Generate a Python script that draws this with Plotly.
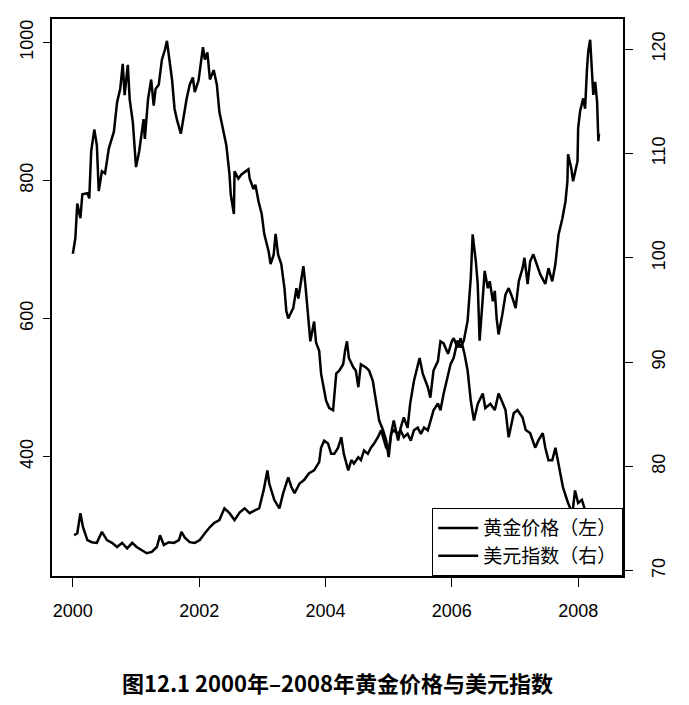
import plotly.graph_objects as go

# ---- data ----
# dollar index (right axis)
years_dollar = [
    2000.00, 2000.04, 2000.07, 2000.12, 2000.15, 2000.23, 2000.26, 2000.29, 2000.34, 2000.38,
    2000.41, 2000.46, 2000.51, 2000.57, 2000.65, 2000.70, 2000.75, 2000.79, 2000.82, 2000.87,
    2000.90, 2000.95, 2001.00, 2001.05, 2001.12, 2001.14, 2001.19, 2001.24, 2001.28, 2001.31,
    2001.36, 2001.41, 2001.46, 2001.49, 2001.52, 2001.57, 2001.61, 2001.65, 2001.71, 2001.76,
    2001.80, 2001.85, 2001.90, 2001.93, 2001.99, 2002.06, 2002.09, 2002.13, 2002.17, 2002.23,
    2002.28, 2002.32, 2002.39, 2002.43, 2002.48, 2002.50, 2002.55, 2002.56, 2002.62, 2002.67,
    2002.78, 2002.80, 2002.86, 2002.89, 2002.94, 2002.99, 2003.03, 2003.10, 2003.13, 2003.18,
    2003.21, 2003.25, 2003.30, 2003.35, 2003.38, 2003.41, 2003.49, 2003.54, 2003.57, 2003.65,
    2003.68, 2003.73, 2003.76, 2003.82, 2003.85, 2003.90, 2003.93, 2004.01, 2004.06, 2004.12,
    2004.17, 2004.22, 2004.28, 2004.31, 2004.34, 2004.37, 2004.44, 2004.48, 2004.52, 2004.56,
    2004.64, 2004.69, 2004.75, 2004.78, 2004.82, 2004.85, 2004.91, 2004.96, 2005.00, 2005.04,
    2005.08, 2005.15, 2005.19, 2005.24, 2005.30, 2005.34, 2005.40, 2005.46, 2005.49, 2005.54,
    2005.59, 2005.62, 2005.66, 2005.71, 2005.78, 2005.82, 2005.87, 2005.94, 2006.00, 2006.03,
    2006.09, 2006.14, 2006.20, 2006.25, 2006.30, 2006.35, 2006.41, 2006.49, 2006.53, 2006.61,
    2006.68, 2006.74, 2006.79, 2006.85, 2006.90, 2006.98, 2007.04, 2007.12, 2007.17, 2007.24,
    2007.32, 2007.37, 2007.44, 2007.48, 2007.53, 2007.59, 2007.64, 2007.72, 2007.76, 2007.84,
    2007.91, 2007.95, 2008.00, 2008.06, 2008.11, 2008.14, 2008.20, 2008.25, 2008.30, 2008.33,
]
dollar_idx = [
    100.4, 101.9, 105.2, 103.8, 106.1, 106.2, 105.7, 110.2, 112.3, 110.8,
    106.4, 108.3, 108.1, 110.5, 112.1, 114.9, 116.2, 118.6, 115.6, 118.5,
    115.2, 113.0, 108.7, 110.2, 113.3, 111.4, 115.2, 117.1, 114.6, 116.2,
    116.6, 119.0, 120.0, 120.8, 119.4, 117.1, 114.3, 113.2, 111.9, 114.0,
    115.2, 116.6, 117.3, 115.9, 117.0, 120.2, 119.0, 119.7, 117.1, 118.0,
    116.6, 114.0, 111.8, 110.8, 108.0, 106.1, 104.2, 108.3, 107.6, 108.0,
    108.5, 107.6, 106.6, 107.0, 105.4, 104.2, 102.3, 100.6, 99.4, 100.3,
    102.3, 100.3, 99.4, 97.1, 94.9, 94.2, 95.2, 97.1, 96.1, 99.2,
    97.5, 94.2, 92.0, 93.9, 91.9, 91.1, 88.9, 86.3, 85.6, 85.4,
    88.9, 89.2, 89.8, 91.1, 92.0, 90.4, 89.5, 89.2, 87.6, 89.8,
    89.5, 89.2, 88.2, 87.0, 85.4, 84.4, 83.5, 82.5, 80.9, 83.2,
    84.4, 82.5, 83.7, 84.7, 83.7, 86.0, 88.2, 89.8, 90.4, 88.9,
    88.2, 87.6, 86.6, 89.2, 90.1, 92.0, 91.8, 90.8, 92.0, 92.3,
    91.4, 92.3, 90.8, 89.2, 86.3, 84.4, 86.0, 87.0, 85.6, 86.0,
    85.4, 87.0, 86.3, 85.4, 82.8, 85.1, 85.4, 84.7, 83.5, 83.2,
    81.8, 82.5, 83.2, 81.8, 80.6, 80.6, 81.8, 79.0, 78.0, 76.5,
    75.5, 77.7, 76.5, 76.8, 75.8, 74.9, 73.0, 71.6, 72.5, 72.0,
]

# gold price (left axis)
years_gold = [
    2000.02, 2000.07, 2000.12, 2000.16, 2000.23, 2000.30, 2000.38, 2000.46, 2000.54, 2000.62,
    2000.70, 2000.78, 2000.86, 2000.94, 2001.01, 2001.09, 2001.17, 2001.25, 2001.33, 2001.38,
    2001.44, 2001.52, 2001.60, 2001.68, 2001.72, 2001.77, 2001.85, 2001.93, 2002.01, 2002.09,
    2002.17, 2002.24, 2002.32, 2002.40, 2002.48, 2002.56, 2002.64, 2002.72, 2002.80, 2002.88,
    2002.95, 2003.02, 2003.08, 2003.11, 2003.19, 2003.27, 2003.33, 2003.41, 2003.46, 2003.51,
    2003.59, 2003.66, 2003.74, 2003.82, 2003.90, 2003.93, 2003.98, 2004.04, 2004.09, 2004.14,
    2004.20, 2004.25, 2004.29, 2004.36, 2004.41, 2004.45, 2004.52, 2004.56, 2004.61, 2004.67,
    2004.72, 2004.77, 2004.83, 2004.88, 2004.91, 2004.96, 2005.00, 2005.04, 2005.08, 2005.15,
    2005.19, 2005.24, 2005.30, 2005.35, 2005.40, 2005.46, 2005.51, 2005.56, 2005.62, 2005.66,
    2005.71, 2005.78, 2005.82, 2005.87, 2005.94, 2005.98, 2006.03, 2006.09, 2006.14, 2006.19,
    2006.25, 2006.30, 2006.33, 2006.38, 2006.41, 2006.44, 2006.49, 2006.52, 2006.57, 2006.60,
    2006.65, 2006.68, 2006.71, 2006.74, 2006.80, 2006.85, 2006.90, 2006.96, 2007.01, 2007.06,
    2007.12, 2007.15, 2007.20, 2007.24, 2007.29, 2007.36, 2007.40, 2007.48, 2007.53, 2007.59,
    2007.64, 2007.69, 2007.75, 2007.80, 2007.83, 2007.84, 2007.89, 2007.92, 2007.99, 2008.00,
    2008.03, 2008.08, 2008.11, 2008.14, 2008.16, 2008.19, 2008.22, 2008.24, 2008.27, 2008.30,
    2008.32, 2008.33,
]
gold_price = [
    286, 289, 318, 298, 279, 276, 275, 291, 279, 275,
    269, 275, 267, 275, 269, 265, 260, 262, 269, 286,
    272, 276, 275, 279, 291, 283, 276, 275, 279, 289,
    298, 304, 308, 325, 318, 308, 319, 325, 318, 322,
    325, 351, 380, 361, 337, 325, 347, 370, 356, 347,
    361, 366, 376, 380, 392, 413, 423, 419, 404, 404,
    413, 428, 404, 380, 395, 390, 399, 395, 409, 404,
    413, 419, 428, 438, 428, 413, 409, 433, 438, 433,
    438, 428, 433, 423, 438, 442, 433, 442, 438, 452,
    467, 477, 467, 491, 520, 534, 543, 568, 558, 568,
    597, 659, 722, 683, 650, 568, 630, 669, 644, 654,
    625, 640, 600, 577, 606, 635, 644, 630, 615, 654,
    673, 688, 650, 683, 693, 673, 664, 650, 673, 654,
    679, 722, 745, 770, 799, 838, 818, 799, 828, 876,
    900, 919, 904, 962, 987, 1004, 962, 924, 943, 914,
    857, 868,
]

x_ticks = [2000, 2002, 2004, 2006, 2008]
gold_ticks = [400, 600, 800, 1000]
dollar_ticks = [70, 80, 90, 100, 110, 120]

label_gold = "黄金价格（左）"
label_dollar = "美元指数（右）"
caption = "图12.1 2000年–2008年黄金价格与美元指数"

tick_font = dict(family="Liberation Sans, Arial", size=18, color="black")
cjk = "Noto Sans CJK SC"

fig = go.Figure()

fig.add_trace(go.Scatter(
    x=years_gold, y=gold_price, mode="lines", name=label_gold,
    line=dict(color="black", width=2.5),
))
fig.add_trace(go.Scatter(
    x=years_dollar, y=dollar_idx, mode="lines", name=label_dollar,
    yaxis="y2", line=dict(color="black", width=2.5),
))

# page has an 8px body margin, so margins are shifted to compensate
fig.update_layout(
    width=689, height=705,
    margin=dict(l=42, r=74, t=9, b=137),
    paper_bgcolor="white", plot_bgcolor="white",
    showlegend=True,
    xaxis=dict(
        range=[1999.67, 2008.71], tickvals=x_ticks, ticktext=[str(v) for v in x_ticks],
        showgrid=False, zeroline=False,
        showline=True, mirror=True, linecolor="black", linewidth=1.5,
        ticks="outside", ticklen=9, tickwidth=1, tickcolor="black",
        tickfont=tick_font, ticklabelstandoff=9,
    ),
    yaxis=dict(
        range=[227, 1034], tickvals=gold_ticks,
        showgrid=False, zeroline=False,
        showline=True, mirror=True, linecolor="black", linewidth=1.5,
        ticks="outside", ticklen=7, tickwidth=1, tickcolor="black",
        tickfont=tick_font, tickangle=-90, ticklabelstandoff=3,
    ),
    yaxis2=dict(
        range=[69.5, 122.9], tickvals=dollar_ticks,
        overlaying="y", side="right", anchor="x",
        showgrid=False, zeroline=False, showline=False,
        ticks="outside", ticklen=9, tickwidth=1, tickcolor="black",
        tickfont=tick_font, tickangle=-90, ticklabelstandoff=10,
    ),
    legend=dict(
        x=1, y=0, xanchor="right", yanchor="bottom",
        xref="paper", yref="paper",
        bgcolor="white", bordercolor="black", borderwidth=1.2,
        font=dict(family=cjk, size=19, color="black"),
        tracegroupgap=0, itemwidth=40,
    ),
    annotations=[dict(
        text="<b>" + caption + "</b>", xref="paper", yref="paper",
        x=0.5, y=-0.19, xanchor="center", yanchor="middle", showarrow=False,
        font=dict(family=cjk, size=22, color="black"),
    )],
)

fig.write_html("out.html")
